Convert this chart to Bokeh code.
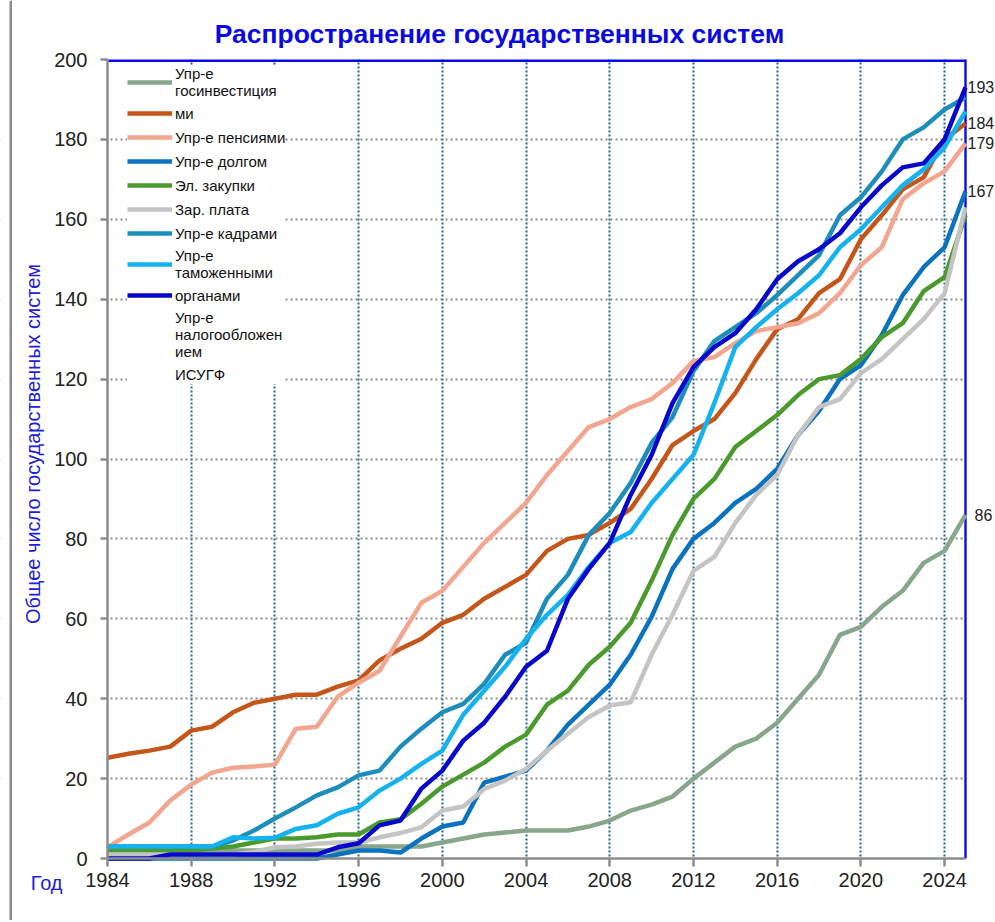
import math
from bokeh.plotting import figure
from bokeh.models import (ColumnDataSource, FixedTicker, Legend, LegendItem,
                          Label, Range1d, BoxAnnotation)
from bokeh.embed import file_html
from bokeh.resources import INLINE

years = list(range(1984, 2026))

invest = [2, 2, 2, 2, 2, 2, 2, 2, 2, 2,
          2, 2, 3, 3, 3, 3,
          4, 5, 6, 6.5, 7, 7, 7, 8, 9.5, 12,
          13.5, 15.5, 20, 24, 28, 30, 34, 40, 46, 56,
          58, 63, 67, 74, 77, 86]
orange = [25.2, 26.2, 27, 28, 32, 33, 36.6, 39, 40, 41,
          41, 43, 44.6, 49.6, 52.5, 55,
          59, 61, 65, 68, 71, 77, 80, 81, 84, 87.5,
          95, 103.5, 107, 110, 116.5, 125, 132.5, 135, 141.5, 145,
          155, 161, 167.5, 170.5, 180, 184]
pink = [2.8, 6, 9, 14.5, 18.5, 21.5, 22.7, 23, 23.5, 32.5,
        33, 40.5, 44, 47, 55.5, 64,
        67, 73, 79, 84, 89, 96, 102, 108, 110, 113,
        115, 119, 124.5, 125.5, 129, 132, 133, 134, 136.5, 141.5,
        148.5, 153, 165, 169, 172, 179]
debt = [0, 0, 0, 0, 0, 0, 0, 0, 0, 0,
        0, 1, 2, 2, 1.5, 5,
        8, 9, 19, 20.5, 22, 27, 33.5, 38.5, 43.5, 51,
        60.5, 72.5, 80, 84, 89, 92.5, 97.5, 106, 112, 120,
        123.5, 131, 141, 148, 153, 167]
procure = [2, 2, 2, 2, 2, 2.5, 3, 4, 5, 5,
           5.3, 6, 6, 9, 9.8, 13.7,
           18, 21, 24, 28, 31, 38.5, 42, 48.5, 53, 59,
           69.5, 81, 90, 95, 103, 107, 111, 116, 120, 121,
           125, 130.5, 134, 142, 145.5, 161]
salary = [1, 1, 1, 1, 1, 1, 1, 1.6, 2.8, 3,
          3.7, 4, 4, 5.3, 6.4, 7.8,
          12, 13, 17.4, 19.5, 22.4, 27, 31.2, 35.4, 38.3, 39.1,
          51, 61, 72, 75.5, 84, 91, 96, 106, 113, 115,
          121.5, 125, 130, 135, 141.5, 163]
staff = [3, 3, 3, 3, 3, 3, 4.5, 7, 10, 12.8,
         15.8, 17.8, 20.8, 22, 28, 32.5,
         36.6, 38.7, 43.7, 51, 54, 65, 71, 81, 86.5, 94,
         104, 110.5, 122, 129.5, 133, 136.5, 141, 146, 151, 161,
         165.5, 172, 180, 183, 187.5, 190.5]
customs = [3, 3, 3, 3, 3, 3, 5.3, 5, 5.2, 7.4,
           8.3, 11.2, 12.8, 17, 20, 23.7,
           27, 36, 42, 48, 55, 61, 66, 73, 79, 81.7,
           89, 95, 101, 114, 128, 133, 137.5, 141.5, 146, 153,
           157.5, 163, 168.5, 172.5, 178, 187]
navy = [0, 0, 0, 1, 1, 1, 1, 1, 1, 1,
        1, 2.8, 3.8, 8.3, 9.5, 17.5,
        22, 29.5, 34, 40.5, 48, 52, 65, 72.5, 79, 91,
        101, 114, 123, 128, 131.5, 137.5, 145, 149.5, 152.5, 156.5,
        163, 168.5, 173, 174, 180, 193]

x_ticks = list(range(1984, 2025, 4))
y_ticks = list(range(0, 201, 20))

legend_labels = ["Упр-е\nгосинвестиция", "ми", "Упр-е пенсиями", "Упр-е долгом",
                 "Эл. закупки", "Зар. плата", "Упр-е кадрами", "Упр-е\nтаможенными",
                 "органами", "Упр-е\nналогообложен\nием", "ИСУГФ"]

series = [
    ("invest", invest, "#88a68c"),
    ("orange", orange, "#c4561a"),
    ("pink", pink, "#f2a690"),
    ("debt", debt, "#0b72c0"),
    ("procure", procure, "#4b9a2d"),
    ("salary", salary, "#c4c4c4"),
    ("staff", staff, "#1d8dbb"),
    ("customs", customs, "#14b2ee"),
    ("navy", navy, "#0808cc"),
]

data = {"year": years}
for name, vals, _ in series:
    data[name] = vals
src = ColumnDataSource(data)

W, H = 995, 920
x0, x1 = years[0], years[-1]
y0, y1 = y_ticks[0], y_ticks[-1]
ppx = 858 / (x1 - x0)      # pixels per year
ppu = 799 / (y1 - y0)      # pixels per unit
p = figure(width=W, height=H,
           x_range=Range1d(x0 - 107 / ppx, x1 + 30 / ppx),
           y_range=Range1d(y0 - (H - 858) / ppu, y1 + 59 / ppu),
           output_backend="svg", toolbar_location=None,
           min_border_left=0, min_border_right=0, min_border_top=0, min_border_bottom=0)
p.outline_line_color = None
p.background_fill_color = "white"
p.border_fill_color = "white"

# axes (fixed inside the frame)
for ax in (p.xaxis[0], p.yaxis[0]):
    ax.axis_line_color = "#8c8c8c"
    ax.axis_line_width = 2.5
    ax.major_tick_line_color = "#8c8c8c"
    ax.major_tick_line_width = 2.5
    ax.major_tick_in = 0
    ax.minor_tick_line_color = None
    ax.major_label_text_font = "Liberation Sans"
    ax.major_label_text_font_size = "20px"
    ax.major_label_text_color = "#222222"

p.xaxis.fixed_location = y0
p.xaxis.ticker = FixedTicker(ticks=x_ticks)
p.xaxis.bounds = (x0, x1)
p.xaxis.major_tick_out = 8
p.xaxis.major_label_standoff = 6
p.yaxis.fixed_location = x0
p.yaxis.ticker = FixedTicker(ticks=y_ticks)
p.yaxis.bounds = (y0, y1)
p.yaxis.major_tick_out = 7
p.yaxis.major_label_standoff = 13

# grids
p.xgrid.ticker = FixedTicker(ticks=x_ticks[1:])
p.xgrid.grid_line_color = "#1f6490"
p.xgrid.grid_line_width = 2
p.xgrid.grid_line_dash = "2 2"
p.ygrid.ticker = FixedTicker(ticks=y_ticks[1:-1])
p.ygrid.grid_line_color = "#8a8a8a"
p.ygrid.grid_line_width = 2
p.ygrid.grid_line_dash = "2 3"

# white areas outside the plot area, and the blue frame edges
for kw in (dict(top=y0), dict(right=x0), dict(left=x1), dict(bottom=y1)):
    p.add_layout(BoxAnnotation(fill_color="white", fill_alpha=1, line_color=None,
                               level="underlay", **kw))
p.add_layout(BoxAnnotation(left=x0, right=x1, top=y1, bottom=y1 - 2.5 / ppu,
                           fill_color="#0a0aee", fill_alpha=1, line_color=None, level="underlay"))
p.add_layout(BoxAnnotation(left=x1 - 1.2 / ppx, right=x1 + 1.2 / ppx, bottom=y0, top=y1,
                           fill_color="#0a0aee", fill_alpha=1, line_color=None, level="underlay"))
# outer chart-area border on the left
p.add_layout(BoxAnnotation(left=x0 - 98 / ppx, right=x0 - 95.5 / ppx,
                           fill_color="#8c8c8c", fill_alpha=1, line_color=None, level="underlay"))

renderers = []
for name, vals, color in series:
    r = p.line("year", name, source=src, line_color=color, line_width=4.5)
    renderers.append(r)
dummy1 = p.line(x=[], y=[], line_alpha=0)
dummy2 = p.line(x=[], y=[], line_alpha=0)

items = [LegendItem(label=lab, renderers=[r]) for lab, r in zip(legend_labels, renderers + [dummy1, dummy2])]
legend = Legend(items=items, location=(127, 536), margin=0, padding=8,
                label_text_font="Liberation Sans", label_text_font_size="15px",
                label_text_line_height=1.0,
                label_text_color="#111111", glyph_width=45, glyph_height=20,
                label_height=20, spacing=4, label_standoff=3,
                background_fill_color="white", background_fill_alpha=1.0,
                border_line_color=None)
p.add_layout(legend)

# title
p.add_layout(Label(x=x0, y=y1, x_offset=392, y_offset=26,
                   text="Распространение государственных систем",
                   text_font="Liberation Sans", text_font_size="26.5px", text_font_style="bold",
                   text_color="#0a0ae0", text_align="center", text_baseline="middle"))

# end labels
end_names = ["navy", "orange", "pink", "debt", "invest"]
end_offsets = [2, 2, 2, 2, 9]
for n, off in zip(end_names, end_offsets):
    v = data[n][-1]
    p.add_layout(Label(x=x1, y=v, x_offset=off, text=f"{v:g}",
                       text_font="Liberation Sans", text_font_size="16px",
                       text_color="#222222", text_baseline="middle", text_align="left"))

p.add_layout(Label(x=x0, y=y0, x_offset=-45, y_offset=-24, text="Год",
                   text_font="Liberation Sans", text_font_size="20px",
                   text_color="#2020d8", text_align="right", text_baseline="middle"))
p.add_layout(Label(x=x0, y=(y0 + y1) / 2, x_offset=-75, y_offset=15, angle=math.pi / 2,
                   text="Общее число государственных систем",
                   text_font="Liberation Sans", text_font_size="20px",
                   text_color="#2020d8", text_align="center", text_baseline="middle"))

open("out.html", "w").write(file_html(p, INLINE))
